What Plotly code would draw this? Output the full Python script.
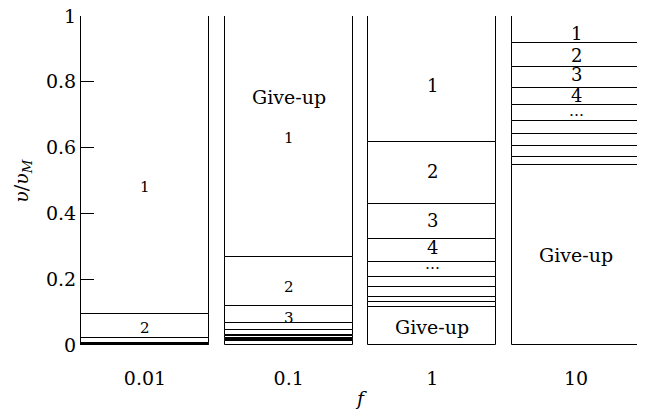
import plotly.graph_objects as go

categories = ["0.01", "0.1", "1", "10"]

# interior segment boundaries (fraction of v/v_M) for each f
bounds_001 = [0.001, 0.002, 0.0035, 0.005, 0.007, 0.020, 0.094]
bounds_01 = [0.013, 0.015, 0.018, 0.022, 0.026, 0.030, 0.046, 0.068, 0.119, 0.268]
bounds_1 = [0.116, 0.132, 0.147, 0.177, 0.208, 0.253, 0.322, 0.429, 0.616]
bounds_10 = [0.547, 0.572, 0.606, 0.640, 0.681, 0.729, 0.782, 0.846, 0.917]
all_bounds = [bounds_001, bounds_01, bounds_1, bounds_10]

# segment labels: (category, value, text)
label_cats = ["0.01", "0.01", "0.1", "0.1", "0.1", "0.1",
              "1", "1", "1", "1", "1", "1",
              "10", "10", "10", "10", "10", "10"]
label_vals = [0.48, 0.052, 0.754, 0.629, 0.176, 0.082,
              0.79, 0.526, 0.377, 0.295, 0.247, 0.055,
              0.948, 0.881, 0.821, 0.757, 0.711, 0.274]
label_texts = ["1", "2", "Give-up", "1", "2", "3",
               "1", "2", "3", "4", "…", "Give-up",
               "1", "2", "3", "4", "…", "Give-up"]

yticks = [0, 0.2, 0.4, 0.6, 0.8, 1]

FONT = "DejaVu Serif"
fig = go.Figure()
for cat, b in zip(categories, all_bounds):
    edges = [0.0] + list(b) + [1.0]
    bases = edges[:-1]
    heights = [edges[i + 1] - edges[i] for i in range(len(edges) - 1)]
    fig.add_trace(go.Bar(
        x=[cat] * len(heights), y=heights, base=bases, width=0.89,
        marker=dict(color="white", line=dict(color="black", width=1)),
        showlegend=False, hoverinfo="skip"))

for c, v, t in zip(label_cats, label_vals, label_texts):
    if t == "Give-up":
        size = 19
    elif t == "…":
        size = 15
    elif c in ("1", "10"):
        size = 18
    else:
        size = 15
    fig.add_annotation(x=categories.index(c), y=v, text=t, showarrow=False,
                       font=dict(family=FONT, size=size, color="black"))

fig.add_annotation(xref="paper", yref="paper", x=0.5, y=-0.16, yanchor="middle",
                   text="<i>f</i>", showarrow=False,
                   font=dict(family=FONT, size=19, color="black"))
fig.add_annotation(xref="paper", yref="paper", x=-0.105, y=0.5, xanchor="center",
                   text="<i>υ</i>/<i>υ</i><sub><i>M</i></sub>", textangle=-90,
                   showarrow=False, font=dict(family=FONT, size=19, color="black"))

fig.update_layout(
    width=637, height=405,
    margin=dict(l=73, r=5, t=8, b=68),
    plot_bgcolor="white", paper_bgcolor="white",
    barmode="overlay", bargap=0,
    font=dict(family=FONT, size=19, color="black"),
    xaxis=dict(type="category", categoryorder="array", categoryarray=categories,
               range=[-0.445, 3.445], showline=False, ticks="", showgrid=False,
               zeroline=False, ticklabelstandoff=20, tickfont=dict(size=19),
               automargin=False),
    yaxis=dict(range=[0, 1], tickvals=yticks, ticktext=["0", "0.2", "0.4", "0.6", "0.8", "1"],
               showline=True, linecolor="black", linewidth=1,
               ticks="inside", ticklen=13, tickcolor="black", tickwidth=1,
               showgrid=False, zeroline=False, tickfont=dict(size=19),
               automargin=False, ticklabeloverflow="allow"),
)
fig.write_html("out.html")
